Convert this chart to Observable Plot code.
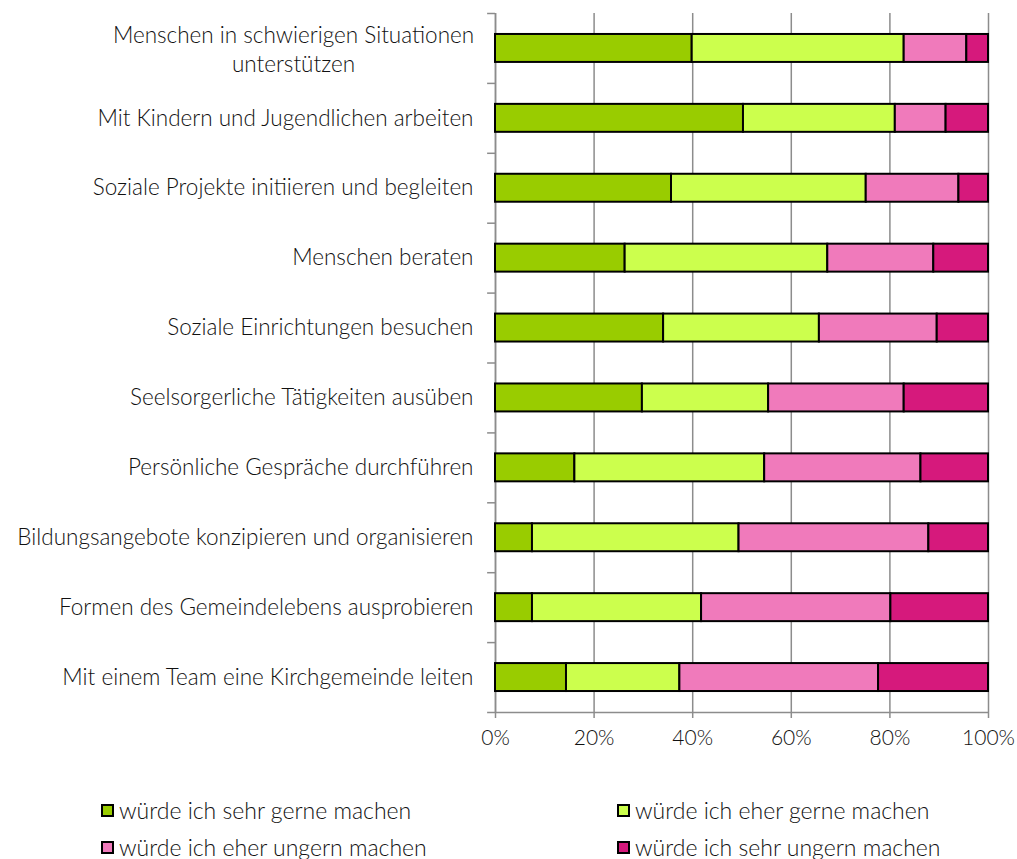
<!DOCTYPE html>
<html>
<head>
<meta charset="utf-8">
<script src="https://cdn.jsdelivr.net/npm/d3@7"></script>
<script src="https://cdn.jsdelivr.net/npm/@observablehq/plot@0.6"></script>
<style>
  html, body { margin: 0; padding: 0; background: #fff; }
  body { width: 1017px; height: 859px; overflow: hidden; font-family: Lato, sans-serif; font-weight: 300; color: #111; }
  #chart svg { display: block; }
  .legend { position: relative; height: 94px; }
  .item { position: absolute; display: flex; align-items: center; font-size: 23px; line-height: 28px; white-space: nowrap; }
  .sw { width: 9px; height: 9px; border: 2px solid #000; margin-right: 5px; }
</style>
</head>
<body>
<div id="chart"></div>
<div class="legend" id="legend"></div>
<script>
const categories = [
  "Menschen in schwierigen Situationen\nunterstützen",
  "Mit Kindern und Jugendlichen arbeiten",
  "Soziale Projekte initiieren und begleiten",
  "Menschen beraten",
  "Soziale Einrichtungen besuchen",
  "Seelsorgerliche Tätigkeiten ausüben",
  "Persönliche Gespräche durchführen",
  "Bildungsangebote konzipieren und organisieren",
  "Formen des Gemeindelebens ausprobieren",
  "Mit einem Team eine Kirchgemeinde leiten"
];
const series = [
  "würde ich sehr gerne machen",
  "würde ich eher gerne machen",
  "würde ich eher ungern machen",
  "würde ich sehr ungern machen"
];
const colors = ["#99cc00", "#ccff4d", "#f07abb", "#d6197c"];
const sehrGerne   = [39.9, 50.3, 35.7, 26.3, 34.1, 29.8, 16.1,  7.5,  7.5, 14.4];
const eherGerne   = [43.0, 30.8, 39.5, 41.1, 31.6, 25.6, 38.5, 41.9, 34.3, 23.0];
const eherUngern  = [12.7, 10.3, 18.8, 21.5, 23.9, 27.5, 31.7, 38.5, 38.4, 40.3];
const sehrUngern  = [ 4.4,  8.6,  6.0, 11.1, 10.4, 17.1, 13.7, 12.1, 19.8, 22.3];
const xTicks = [0, 20, 40, 60, 80, 100];

const seriesValues = [sehrGerne, eherGerne, eherUngern, sehrUngern];
const data = [];
categories.forEach((c, i) => {
  series.forEach((s, j) => data.push({category: c, series: s, value: seriesValues[j][i]}));
});

const W = 1017, H = 765, mT = 13, mB = 53, mL = 495, mR = 29;
const step = (H - mT - mB) / categories.length;
const gray = "#8c8c8c";
const txt = "#111";

const chart = Plot.plot({
  width: W, height: H,
  marginTop: mT, marginBottom: mB, marginLeft: mL, marginRight: mR,
  style: {fontFamily: "Lato, sans-serif", fontWeight: 300, fontSize: "22.5px", color: txt, background: "#fff"},
  x: {domain: [0, 100]},
  y: {domain: categories, paddingInner: 0.6, paddingOuter: 0.3, round: false},
  color: {domain: series, range: colors},
  marks: [
    Plot.ruleX(xTicks, {stroke: gray, strokeWidth: 1.5, strokeOpacity: 1}),
    Plot.axisX({ticks: xTicks, tickFormat: d => d + "%", tickSize: 6, tickPadding: 12, stroke: gray, strokeOpacity: 1, strokeWidth: 1.5, fontSize: 21, fill: txt, label: null}),
    Plot.axisY({tickSize: 0, tickPadding: 22, fontSize: 22.5, fill: txt, label: null,
      tickFormat: d => d.includes("\n") ? "" : d}),
    Plot.text(categories.filter(d => d.includes("\n")), {
      y: d => d, frameAnchor: "left", text: d => d, textAnchor: "middle",
      dx: -202, lineHeight: 1.25, fontSize: 22.5, fill: txt
    }),
    Plot.ruleY(categories, {y: d => d, x1: -1.6, x2: 0, dy: -step / 2, stroke: gray, strokeWidth: 1.5}),
    Plot.ruleY(categories.slice(-1), {y: d => d, x1: -1.6, x2: 0, dy: step / 2, stroke: gray, strokeWidth: 1.5}),
    Plot.ruleX([0], {stroke: gray, strokeWidth: 1.5}),
    Plot.ruleY([0], {y: () => categories[categories.length - 1], dy: step / 2, x1: 0, x2: 100, stroke: gray, strokeWidth: 1.5}),
    Plot.barX(data, Plot.stackX({
      y: "category", x: "value", fill: "series", z: "series",
      order: series, stroke: "#000", strokeWidth: 2, inset: 0
    }))
  ]
});
document.getElementById("chart").appendChild(chart);

const legend = document.getElementById("legend");
const pos = [[101, 45], [617, 45], [101, 82], [617, 82]];
series.forEach((s, i) => {
  const it = document.createElement("div");
  it.className = "item";
  it.style.left = pos[i][0] + "px";
  it.style.top = (pos[i][1] - 14) + "px";
  const sw = document.createElement("span");
  sw.className = "sw";
  sw.style.background = colors[i];
  const t = document.createElement("span");
  t.textContent = s;
  it.appendChild(sw); it.appendChild(t);
  legend.appendChild(it);
});
</script>
</body>
</html>
